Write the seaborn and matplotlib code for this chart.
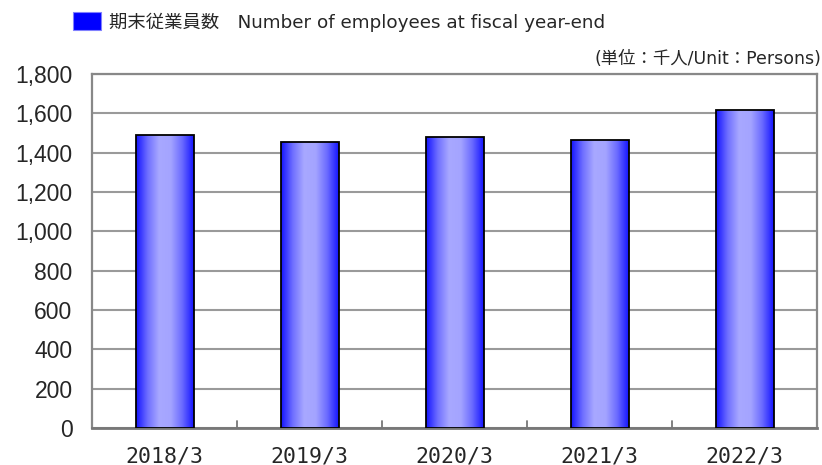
import numpy as np
import pandas as pd
import matplotlib
matplotlib.use("Agg")
import matplotlib.pyplot as plt
import seaborn as sns
from matplotlib.colors import LinearSegmentedColormap
from matplotlib.ticker import FuncFormatter, FixedLocator

# Datos
periodos = ["2018/3", "2019/3", "2020/3", "2021/3", "2022/3"]
empleados = [1489, 1453, 1479, 1464, 1615]
leyenda = "期末従業員数　Number of employees at fiscal year-end"
unidad = "(単位：千人/Unit：Persons)"

df = pd.DataFrame({"Periodo": periodos, "Empleados": empleados})

sns.set_theme(style="white")
plt.rcParams["font.family"] = ["Liberation Sans", "Noto Sans CJK JP", "DejaVu Sans"]

fig = plt.figure(figsize=(8.22, 4.65), dpi=100)
ax = fig.add_axes([92 / 822, 1 - 428 / 465, (817 - 92) / 822, (428 - 74) / 465])

sns.barplot(x="Periodo", y="Empleados", data=df, ax=ax, width=0.40,
            color="#4040ff", edgecolor="black", linewidth=1.3, zorder=3)

# Degradado horizontal dentro de cada barra
cmap = LinearSegmentedColormap.from_list(
    "azul", ["#1414ff", "#6e6eff", "#a8a8ff", "#a4a4ff", "#6a6aff", "#1414ff"])
grad = np.linspace(0, 1, 256).reshape(1, -1)
for p in ax.patches:
    x0, y0 = p.get_x(), p.get_y()
    w, h = p.get_width(), p.get_height()
    im = ax.imshow(grad, cmap=cmap, aspect="auto", extent=[x0, x0 + w, y0, y0 + h],
                   zorder=3, interpolation="bilinear")
    im.set_clip_path(p)
    p.set_facecolor("none")
    p.set_zorder(4)

ax.set_xlim(-0.5, len(periodos) - 0.5)
ax.set_ylim(0, 1800)
ax.yaxis.set_major_locator(FixedLocator(range(0, 1801, 200)))
ax.yaxis.set_major_formatter(FuncFormatter(lambda v, pos: f"{int(v):,}"))
ax.grid(axis="y", color="#9a9a9a", linewidth=1.5, zorder=0)
ax.set_axisbelow(True)

for lado in ["left", "top", "right"]:
    ax.spines[lado].set_color("#888888")
    ax.spines[lado].set_linewidth(1.6)
ax.spines["bottom"].set_color("#777777")
ax.spines["bottom"].set_linewidth(2)

ax.set_xlabel("")
ax.set_ylabel("")
ax.tick_params(axis="y", labelsize=16.5, length=0, pad=14)
ax.tick_params(axis="x", labelsize=15.5, length=0, pad=13)
for t in ax.get_xticklabels():
    t.set_fontfamily(["DejaVu Sans Mono", "DejaVu Sans"])

# Marcas entre categorías
for xb in np.arange(0.5, len(periodos) - 0.5, 1):
    ax.plot([xb, xb], [0, 36], color="#777777", linewidth=1.3, zorder=2, clip_on=False)

# Leyenda
fig.patches.append(plt.Rectangle((73 / 822, 1 - 30 / 465), 28 / 822, 18 / 465,
                                 transform=fig.transFigure, facecolor="#0000ff",
                                 edgecolor="#8080ff", linewidth=0.8))
fig.text(109 / 822, 1 - 22 / 465, leyenda, fontsize=13.2, va="center", ha="left",
         family=["DejaVu Sans", "Noto Sans CJK JP"])
fig.text(821 / 822, 1 - 59 / 465, unidad, fontsize=12.5, va="center", ha="right",
         family=["DejaVu Sans", "Noto Sans CJK JP"])

fig.savefig("out.png", dpi=100)
